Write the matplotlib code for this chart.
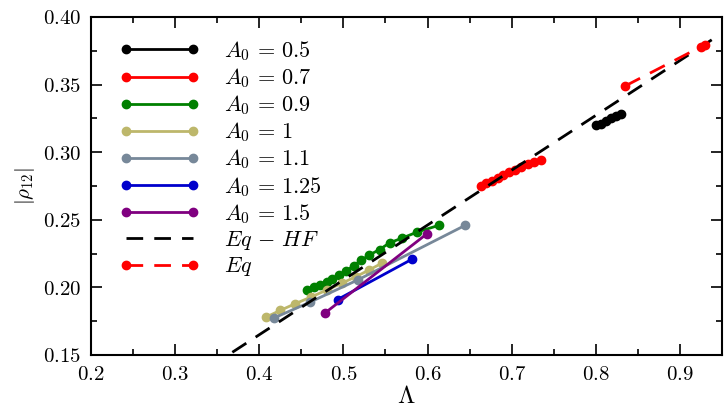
import matplotlib
matplotlib.use("Agg")
import matplotlib.pyplot as plt
from matplotlib.ticker import FuncFormatter, MultipleLocator

plt.rcParams["mathtext.fontset"] = "cm"
plt.rcParams["font.family"] = "DejaVu Serif"

# A0 = 0.5
x_05 = [0.800, 0.806, 0.812, 0.818, 0.824, 0.830]
y_05 = [0.320, 0.321, 0.323, 0.325, 0.327, 0.328]
# A0 = 0.7
x_07 = [0.663, 0.670, 0.677, 0.684, 0.690, 0.697, 0.704, 0.711, 0.719, 0.727, 0.735]
y_07 = [0.275, 0.277, 0.279, 0.281, 0.283, 0.285, 0.287, 0.289, 0.291, 0.293, 0.294]
# A0 = 0.9
x_09 = [0.457, 0.465, 0.472, 0.480, 0.487, 0.495, 0.503, 0.512, 0.521, 0.531,
        0.543, 0.555, 0.570, 0.588, 0.614]
y_09 = [0.198, 0.200, 0.202, 0.204, 0.206, 0.209, 0.212, 0.216, 0.220, 0.224,
        0.228, 0.233, 0.2365, 0.241, 0.246]
# A0 = 1
x_10 = [0.408, 0.425, 0.443, 0.462, 0.480, 0.498, 0.515, 0.531, 0.546]
y_10 = [0.178, 0.183, 0.188, 0.193, 0.198, 0.203, 0.208, 0.213, 0.218]
# A0 = 1.1
x_11 = [0.418, 0.460, 0.517, 0.645]
y_11 = [0.1775, 0.189, 0.2055, 0.246]
# A0 = 1.25
x_125 = [0.493, 0.582]
y_125 = [0.191, 0.221]
# A0 = 1.5
x_15 = [0.478, 0.599]
y_15 = [0.181, 0.2395]
# Eq - HF
x_hf = [0.368, 0.940]
y_hf = [0.152, 0.384]
# Eq
x_eq = [0.835, 0.925, 0.930]
y_eq = [0.349, 0.378, 0.379]

series = [
    (x_05, y_05, "black", r"$A_0\,=\,0.5$"),
    (x_07, y_07, "red", r"$A_0\,=\,0.7$"),
    (x_09, y_09, "green", r"$A_0\,=\,0.9$"),
    (x_10, y_10, "#bdb76b", r"$A_0\,=\,1$"),
    (x_11, y_11, "#778899", r"$A_0\,=\,1.1$"),
    (x_125, y_125, "#0000cc", r"$A_0\,=\,1.25$"),
    (x_15, y_15, "purple", r"$A_0\,=\,1.5$"),
]

fig = plt.figure(figsize=(7.25, 4.15), dpi=100)
ax = fig.add_axes((0.1255, 0.1446, 0.8704, 0.8145))

for xs, ys, c, lab in series:
    ax.plot(xs, ys, "-o", color=c, lw=2, ms=6, mec=c, label=lab)
ax.plot(x_hf, y_hf, "--", color="black", lw=2, dashes=(6, 4), label=r"$Eq\,-\,HF$")
ax.plot(x_eq, y_eq, "--o", color="red", lw=2, ms=6, dashes=(6, 4), label=r"$Eq$")

ax.set_xlim(0.2, 0.95)
ax.set_ylim(0.15, 0.40)
ax.xaxis.set_major_locator(MultipleLocator(0.1))
ax.xaxis.set_minor_locator(MultipleLocator(0.05))
ax.yaxis.set_major_locator(MultipleLocator(0.05))
ax.yaxis.set_minor_locator(MultipleLocator(0.025))
ax.xaxis.set_major_formatter(FuncFormatter(lambda v, p: f"${v:.1f}$"))
ax.yaxis.set_major_formatter(FuncFormatter(lambda v, p: f"${v:.2f}$"))
ax.tick_params(which="both", direction="in", top=True, right=True, labelsize=15, width=1.2)
ax.tick_params(which="major", length=8, pad=7)
ax.tick_params(which="minor", length=4)
for s in ax.spines.values():
    s.set_linewidth(1.5)

ax.set_xlabel(r"$\Lambda$", fontsize=18, labelpad=1)
ax.set_ylabel(r"$|\rho_{12}|$", fontsize=15, labelpad=4)

ax.legend(loc="upper left", bbox_to_anchor=(0.01, 1.0), frameon=False,
          numpoints=2, fontsize=16, handlelength=3.6, handletextpad=1.1,
          labelspacing=0.15, borderaxespad=0.3, borderpad=0.7)

fig.savefig("out.png", dpi=100)
